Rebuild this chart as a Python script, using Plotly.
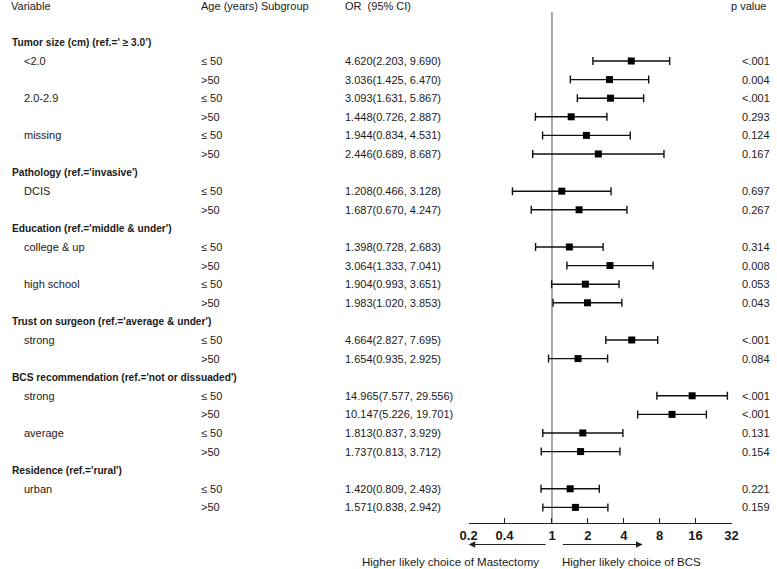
import math
import plotly.graph_objects as go

# ---------------- data ----------------
labels = [
    "Tumor size (cm) (ref.=' ≥ 3.0’)", "<2.0", "", "2.0-2.9", "", "missing", "",
    "Pathology (ref.='invasive')", "DCIS", "",
    "Education (ref.='middle & under')", "college & up", "", "high school", "",
    "Trust on surgeon (ref.='average & under')", "strong", "",
    "BCS recommendation (ref.='not or dissuaded')", "strong", "", "average", "",
    "Residence (ref.='rural')", "urban", "",
]
is_header = [
    True, False, False, False, False, False, False,
    True, False, False,
    True, False, False, False, False,
    True, False, False,
    True, False, False, False, False,
    True, False, False,
]
age_group = [
    "", "≤ 50", ">50", "≤ 50", ">50", "≤ 50", ">50",
    "", "≤ 50", ">50",
    "", "≤ 50", ">50", "≤ 50", ">50",
    "", "≤ 50", ">50",
    "", "≤ 50", ">50", "≤ 50", ">50",
    "", "≤ 50", ">50",
]
or_val = [
    None, 4.620, 3.036, 3.093, 1.448, 1.944, 2.446,
    None, 1.208, 1.687,
    None, 1.398, 3.064, 1.904, 1.983,
    None, 4.664, 1.654,
    None, 14.965, 10.147, 1.813, 1.737,
    None, 1.420, 1.571,
]
ci_low = [
    None, 2.203, 1.425, 1.631, 0.726, 0.834, 0.689,
    None, 0.466, 0.670,
    None, 0.728, 1.333, 0.993, 1.020,
    None, 2.827, 0.935,
    None, 7.577, 5.226, 0.837, 0.813,
    None, 0.809, 0.838,
]
ci_high = [
    None, 9.690, 6.470, 5.867, 2.887, 4.531, 8.687,
    None, 3.128, 4.247,
    None, 2.683, 7.041, 3.651, 3.853,
    None, 7.695, 2.925,
    None, 29.556, 19.701, 3.929, 3.712,
    None, 2.493, 2.942,
]
p_values = [
    "", "<.001", "0.004", "<.001", "0.293", "0.124", "0.167",
    "", "0.697", "0.267",
    "", "0.314", "0.008", "0.053", "0.043",
    "", "<.001", "0.084",
    "", "<.001", "<.001", "0.131", "0.154",
    "", "0.221", "0.159",
]
col_headers = ["Variable", "Age (years) Subgroup", "OR\u00a0 (95% CI)", "p value"]
tick_vals = [0.2, 0.4, 1, 2, 4, 8, 16, 32]
tick_text = ["0.2", "0.4", "1", "2", "4", "8", "16", "32"]
left_label = "Higher likely choice of Mastectomy"
right_label = "Higher likely choice of BCS"

# ---------------- figure ----------------
W, H = 777, 569
FONT = "Liberation Sans, Arial, sans-serif"
TXT = "#1a1a1a"
rows = list(range(len(labels)))

px_idx = [i for i in rows if or_val[i] is not None]
xs = [or_val[i] for i in px_idx]
ys = [i for i in px_idx]
err_plus = [ci_high[i] - or_val[i] for i in px_idx]
err_minus = [or_val[i] - ci_low[i] for i in px_idx]

PLOT_TOP, PLOT_BOT = 12, 523
Y_RANGE = [25.84, -1.634]

fig = go.Figure()

# reference line at OR = 1
fig.add_trace(go.Scatter(
    x=[1, 1], y=Y_RANGE, mode="lines",
    line=dict(color="#555555", width=1), hoverinfo="skip", showlegend=False,
    cliponaxis=False,
))

fig.add_trace(go.Scatter(
    x=xs, y=ys, mode="markers",
    marker=dict(symbol="square", size=7, color="#000000"),
    error_x=dict(type="data", symmetric=False, array=err_plus, arrayminus=err_minus,
                 color="#111111", thickness=1.4, width=4),
    showlegend=False, cliponaxis=False,
))

annotations = []


def px2paper(px):
    return px / W


def py2paper(py):
    return (PLOT_BOT - py) / (PLOT_BOT - PLOT_TOP)


# column headers
for txt, xpx, anchor in zip(col_headers, [0, 194, 341, 775], ["left", "left", "left", "right"]):
    annotations.append(dict(text=txt, x=px2paper(xpx), xref="paper", y=py2paper(6), yref="paper",
                            xanchor=anchor, yanchor="middle", showarrow=False,
                            font=dict(family=FONT, size=11, color=TXT)))

for i in rows:
    if labels[i]:
        annotations.append(dict(
            text=labels[i], x=px2paper(1 if is_header[i] else 13), xref="paper",
            y=i, yref="y", xanchor="left", yanchor="middle", showarrow=False,
            font=dict(family=FONT, size=10.2 if is_header[i] else 11, color=TXT,
                      weight="bold" if is_header[i] else "normal")))
    if age_group[i]:
        annotations.append(dict(
            text=age_group[i], x=px2paper(194), xref="paper", y=i, yref="y",
            xanchor="left", yanchor="middle", showarrow=False,
            font=dict(family=FONT, size=11, color=TXT)))
    if or_val[i] is not None:
        annotations.append(dict(
            text=f"{or_val[i]:.3f}({ci_low[i]:.3f}, {ci_high[i]:.3f})",
            x=px2paper(341), xref="paper", y=i, yref="y",
            xanchor="left", yanchor="middle", showarrow=False,
            font=dict(family=FONT, size=11, color=TXT)))
    if p_values[i]:
        annotations.append(dict(
            text=p_values[i], x=px2paper(746), xref="paper", y=i, yref="y",
            xanchor="left", yanchor="middle", showarrow=False,
            font=dict(family=FONT, size=11, color=TXT)))

arrow_y = py2paper(544.5)
# arrows (log axis: annotation coordinates in log10)
annotations.append(dict(x=math.log10(0.2), y=arrow_y, xref="x", yref="paper",
                        ax=math.log10(0.91), ay=0, axref="x", ayref="pixel",
                        text="", showarrow=True, arrowhead=2, arrowsize=1.1, arrowwidth=1.2,
                        arrowcolor="#222222", standoff=0, startstandoff=0))
annotations.append(dict(x=math.log10(5.75), y=arrow_y, xref="x", yref="paper",
                        ax=math.log10(1.2), ay=0, axref="x", ayref="pixel",
                        text="", showarrow=True, arrowhead=2, arrowsize=1.1, arrowwidth=1.2,
                        arrowcolor="#222222", standoff=0, startstandoff=0))

lab_y = py2paper(561.5)
annotations.append(dict(text=left_label, x=px2paper(543), xref="paper", y=lab_y, yref="paper",
                        xanchor="right", yanchor="middle", showarrow=False,
                        font=dict(family=FONT, size=11.5, color=TXT)))
annotations.append(dict(text=right_label, x=px2paper(563), xref="paper", y=lab_y, yref="paper",
                        xanchor="left", yanchor="middle", showarrow=False,
                        font=dict(family=FONT, size=11.5, color=TXT)))

fig.update_layout(
    width=W, height=H,
    margin=dict(l=0, r=0, t=PLOT_TOP, b=H - PLOT_BOT, pad=0),
    paper_bgcolor="white", plot_bgcolor="white",
    annotations=annotations,
    xaxis=dict(
        type="log", domain=[469.3 / W, 737.7 / W],
        range=[math.log10(0.2), math.log10(32)],
        tickvals=tick_vals, ticktext=tick_text,
        showgrid=False, zeroline=False,
        showline=True, linecolor="#222222", linewidth=1.3,
        ticks="inside", ticklen=5, tickwidth=1.3, tickcolor="#222222",
        tickfont=dict(family=FONT, size=13, color=TXT, weight="bold"),
        fixedrange=True,
    ),
    yaxis=dict(range=Y_RANGE, visible=False, showgrid=False, zeroline=False, fixedrange=True),
    showlegend=False,
)

fig.write_html(
    "out.html",
    config={"displayModeBar": False},
    post_script="document.body.style.margin='0';document.body.style.overflow='hidden';",
)
